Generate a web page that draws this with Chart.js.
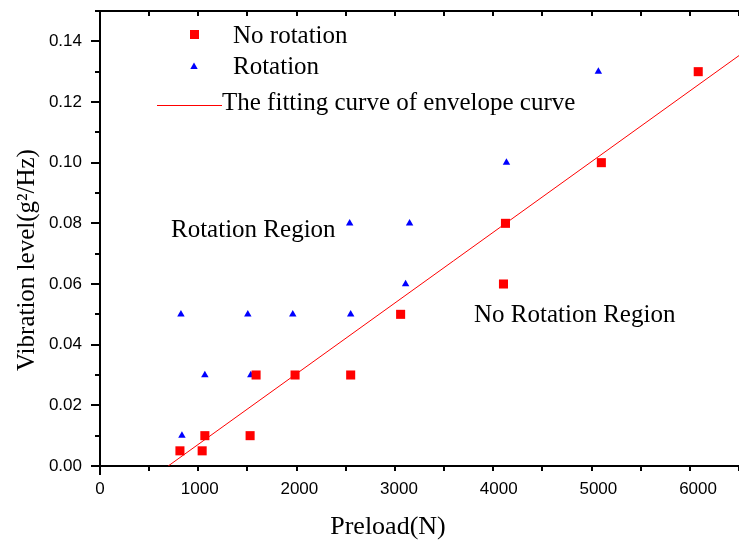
<!DOCTYPE html>
<html>
<head>
<meta charset="utf-8">
<script src="https://cdn.jsdelivr.net/npm/chart.js@4"></script>
<style>
html,body{margin:0;padding:0;background:#fff;}
#wrap{position:absolute;left:0;top:0;width:739px;height:541px;}
</style>
</head>
<body>
<div id="wrap"><canvas id="c" width="739" height="541"></canvas></div>
<script>
// Data
const noRotX = [802, 1025, 1052, 1506, 1566, 1957, 2515, 3016, 4048, 4068, 5030, 6002];
const noRotY = [0.005, 0.005, 0.010, 0.010, 0.030, 0.030, 0.030, 0.050, 0.060, 0.080, 0.100, 0.130];
const rotX = [822, 812, 1052, 1483, 1513, 1934, 2505, 2515, 3066, 3106, 4078, 5000];
const rotY = [0.010, 0.050, 0.030, 0.050, 0.030, 0.050, 0.080, 0.050, 0.060, 0.080, 0.100, 0.130];
const fitX = [684, 6411];
const fitY = [0, 0.1353];
const xTickStep = 500, yTickStep = 0.01;
const xRange = [0, 6411], yRange = [0, 0.15];
const xTickLabels = ['0', '1000', '2000', '3000', '4000', '5000', '6000'];
const yTickLabels = ['0.00', '0.02', '0.04', '0.06', '0.08', '0.10', '0.12', '0.14'];
const labels = {
  x: 'Preload(N)',
  y: 'Vibration level(g\u00B2/Hz)',
  s1: 'No rotation',
  s2: 'Rotation',
  s3: 'The fitting curve of envelope curve',
  r1: 'Rotation Region',
  r2: 'No Rotation Region'
};

const toPts = (xs, ys) => xs.map((x, i) => ({x: x, y: ys[i]}));

const SERIF = "25px 'Liberation Serif', 'Times New Roman', serif";
const SANS = "17px 'Liberation Sans', Arial, sans-serif";

const axesPlugin = {
  id: 'axesDraw',
  beforeDatasetsDraw(chart) {
    const ctx = chart.ctx;
    const a = chart.chartArea;
    const xs = chart.scales.x, ys = chart.scales.y;
    ctx.save();
    ctx.strokeStyle = '#000';
    ctx.lineWidth = 2;
    ctx.lineCap = 'butt';
    ctx.beginPath();
    ctx.moveTo(a.left, a.top - 1); ctx.lineTo(a.left, a.bottom + 1);
    ctx.moveTo(a.left - 1, a.bottom); ctx.lineTo(a.right, a.bottom);
    ctx.moveTo(a.left - 1, a.top); ctx.lineTo(a.right, a.top);
    ctx.stroke();
    ctx.beginPath();
    xs.ticks.forEach(t => {
      const px = Math.round(xs.getPixelForValue(t.value));
      const major = Math.round(t.value) % 1000 === 0;
      const L = major ? 9 : 5;
      ctx.moveTo(px, a.bottom); ctx.lineTo(px, a.bottom + L);
      ctx.moveTo(px, a.top); ctx.lineTo(px, a.top + L);
    });
    ys.ticks.forEach(t => {
      const py = Math.round(ys.getPixelForValue(t.value));
      const major = Math.round(t.value * 100) % 2 === 0;
      const L = major ? 9 : 5;
      ctx.moveTo(a.left, py); ctx.lineTo(a.left - L, py);
    });
    ctx.stroke();
    // tick labels
    ctx.fillStyle = '#000';
    ctx.font = SANS;
    ctx.textBaseline = 'middle';
    ctx.textAlign = 'center';
    xTickLabels.forEach(l => {
      ctx.fillText(l, xs.getPixelForValue(Number(l)), a.bottom + 23);
    });
    ctx.textAlign = 'right';
    yTickLabels.forEach(l => {
      ctx.fillText(l, a.left - 18, ys.getPixelForValue(Number(l)));
    });
    ctx.restore();
  },
  afterDraw(chart) {
    const ctx = chart.ctx;
    const ds = chart.data.datasets;
    ctx.save();
    ctx.fillStyle = '#000';
    ctx.textBaseline = 'alphabetic';
    ctx.textAlign = 'center';
    ctx.font = "26px 'Liberation Serif', 'Times New Roman', serif";
    ctx.fillText(labels.x, 388, 534);
    ctx.font = SERIF;
    ctx.save();
    ctx.translate(34, 260);
    ctx.rotate(-Math.PI / 2);
    ctx.fillText(labels.y, 0, 0);
    ctx.restore();
    ctx.textAlign = 'left';
    ctx.fillText(labels.r1, 171, 237);
    ctx.fillText(labels.r2, 474, 322);
    ctx.fillText(labels.s1, 233, 43);
    ctx.fillText(labels.s2, 233, 74);
    ctx.fillText(labels.s3, 222, 110);
    ctx.fillStyle = ds[0].backgroundColor;
    ctx.fillRect(190, 30, 9, 9);
    ctx.fillStyle = ds[1].backgroundColor;
    ctx.beginPath();
    ctx.moveTo(194, 62.5); ctx.lineTo(197.7, 69); ctx.lineTo(190.3, 69); ctx.closePath();
    ctx.fill();
    ctx.strokeStyle = ds[2].borderColor;
    ctx.lineWidth = 1;
    ctx.beginPath();
    ctx.moveTo(157, 105.5); ctx.lineTo(222, 105.5);
    ctx.stroke();
    ctx.restore();
  }
};

const zeroPad = s => { s.paddingTop = 0; s.paddingBottom = 0; s.paddingLeft = 0; s.paddingRight = 0; };

new Chart(document.getElementById('c'), {
  type: 'scatter',
  data: {
    datasets: [
      {
        label: labels.s1,
        data: toPts(noRotX, noRotY),
        pointStyle: 'rect',
        pointRadius: 6.4,
        pointHoverRadius: 6.4,
        backgroundColor: '#ff0000',
        borderColor: '#ff0000',
        pointBorderWidth: 0,
        order: 2
      },
      {
        label: labels.s2,
        data: toPts(rotX, rotY),
        pointStyle: 'triangle',
        pointRadius: 4.3,
        pointHoverRadius: 4.3,
        backgroundColor: '#0000ff',
        borderColor: '#0000ff',
        pointBorderWidth: 0,
        order: 3
      },
      {
        label: labels.s3,
        type: 'line',
        data: toPts(fitX, fitY),
        borderColor: '#ff0000',
        backgroundColor: '#ff0000',
        borderWidth: 1,
        pointRadius: 0,
        fill: false,
        tension: 0,
        order: 1
      }
    ]
  },
  options: {
    responsive: false,
    animation: false,
    devicePixelRatio: 1,
    layout: {autoPadding: false, padding: {top: 11, left: 0, right: 0, bottom: 0}},
    plugins: {
      legend: {display: false},
      tooltip: {enabled: false},
      title: {display: false}
    },
    scales: {
      x: {
        type: 'linear',
        position: 'bottom',
        min: xRange[0],
        max: xRange[1],
        grid: {display: false},
        border: {display: false},
        ticks: {stepSize: xTickStep, includeBounds: false, display: false},
        afterFit: s => { s.height = 75; zeroPad(s); }
      },
      y: {
        type: 'linear',
        position: 'left',
        min: yRange[0],
        max: yRange[1],
        grid: {display: false},
        border: {display: false},
        ticks: {stepSize: yTickStep, includeBounds: false, display: false},
        afterFit: s => { s.width = 100; zeroPad(s); }
      }
    }
  },
  plugins: [axesPlugin]
});
</script>
</body>
</html>
